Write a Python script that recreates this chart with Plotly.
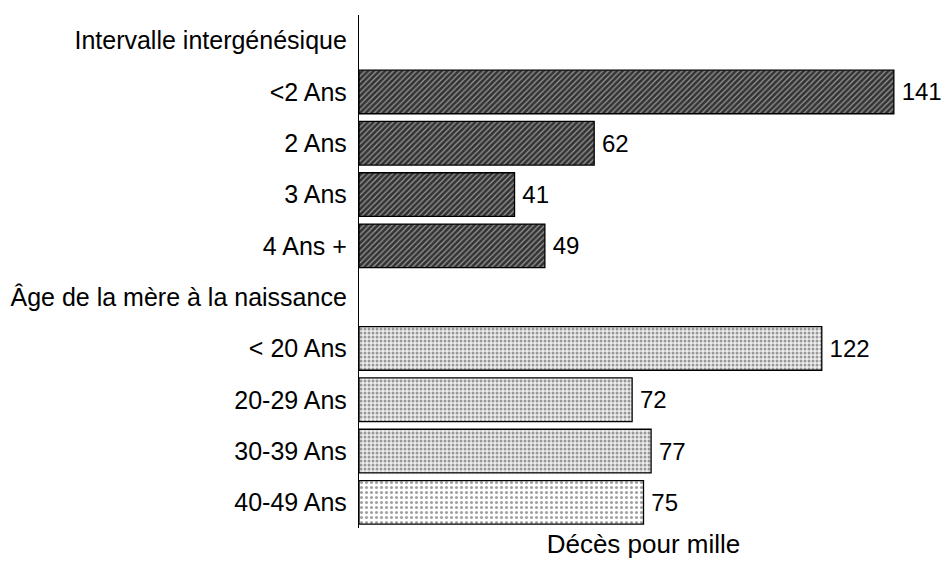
import plotly.graph_objects as go

categories = ["Intervalle intergénésique", "<2 Ans", "2 Ans", "3 Ans", "4 Ans +",
              "Âge de la mère à la naissance", "< 20 Ans", "20-29 Ans", "30-39 Ans", "40-49 Ans"]
values = [None, 141, 62, 41, 49, None, 122, 72, 77, 75]
value_labels = ["", "141", "62", "41", "49", "", "122", "72", "77", "75"]

shapes = ["", "/", "/", "/", "/", "", ".", ".", ".", "."]
bgcols = ["white", "#333333", "#333333", "#333333", "#333333", "white", "#eeeeee", "#eeeeee", "#eeeeee", "white"]
fgcols = ["black", "#e0e0e0", "#e0e0e0", "#e0e0e0", "#e0e0e0", "black", "#666666", "#666666", "#666666", "#777777"]
psizes = [4, 4, 4, 4, 4, 4, 4, 4, 4, 5]
psol = [0.3, 0.3, 0.3, 0.3, 0.3, 0.3, 0.45, 0.45, 0.45, 0.3]

FONT = "Liberation Sans, Arial, sans-serif"

fig = go.Figure(go.Bar(
    x=values, y=categories, orientation="h",
    text=["\u2009" + t if t else "" for t in value_labels],
    textposition="outside", cliponaxis=False,
    textfont=dict(family=FONT, size=24, color="black"),
    marker=dict(color=bgcols, line=dict(color="black", width=1.3),
                pattern=dict(shape=shapes, fgcolor=fgcols, bgcolor=bgcols,
                             size=psizes, solidity=psol)),
    hoverinfo="skip",
))

fig.update_layout(
    width=943, height=561,
    margin=dict(l=359, r=15, t=15, b=33),
    plot_bgcolor="white", paper_bgcolor="white",
    bargap=0.15, showlegend=False,
    font=dict(family=FONT, size=25, color="black"),
)
fig.update_xaxes(range=[0, 150], showticklabels=False, showgrid=False, zeroline=False,
                 showline=False, ticks="", automargin=False,
                 title=dict(text="Décès pour mille", standoff=6,
                            font=dict(family=FONT, size=26, color="black")))
fig.update_yaxes(categoryorder="array", categoryarray=categories, autorange="reversed",
                 showgrid=False, zeroline=False, showline=True, linecolor="black", linewidth=1.3,
                 ticks="", ticklabelstandoff=6, automargin=False,
                 tickfont=dict(family=FONT, size=25, color="black"))

fig.write_html("out.html", config={"displayModeBar": False},
               post_script="document.body.style.margin='0';document.body.style.overflow='hidden';")
